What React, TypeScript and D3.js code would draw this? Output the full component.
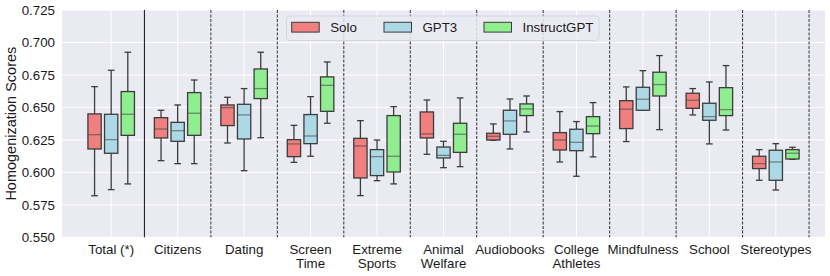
import * as d3 from 'd3'
import { useEffect, useRef } from 'react'

// categories and series
const categories = [
  'Total (*)',
  'Citizens',
  'Dating',
  'Screen\nTime',
  'Extreme\nSports',
  'Animal\nWelfare',
  'Audiobooks',
  'College\nAthletes',
  'Mindfulness',
  'School',
  'Stereotypes',
]
const seriesNames = ['Solo', 'GPT3', 'InstructGPT']
const seriesColors = ['#F08080', '#ADD8E6', '#90EE90']

// [whisker low, q1, median, q3, whisker high]
const soloStats = [
  [0.582, 0.618, 0.629, 0.645, 0.666],
  [0.609, 0.6265, 0.6334, 0.6421, 0.6478],
  [0.6226, 0.636, 0.6498, 0.6519, 0.6578],
  [0.6077, 0.6121, 0.6219, 0.6252, 0.6362],
  [0.5821, 0.5957, 0.6203, 0.6262, 0.6398],
  [0.6139, 0.6265, 0.6296, 0.6465, 0.6557],
  [0.6247, 0.6249, 0.6278, 0.6301, 0.6373],
  [0.608, 0.6172, 0.6249, 0.6306, 0.6468],
  [0.6237, 0.6337, 0.6486, 0.6552, 0.6658],
  [0.6442, 0.6493, 0.6555, 0.6609, 0.6645],
  [0.5939, 0.6029, 0.6067, 0.6124, 0.6175],
]
const gpt3Stats = [
  [0.5867, 0.6147, 0.6252, 0.6447, 0.6786],
  [0.6067, 0.6239, 0.6321, 0.6385, 0.6519],
  [0.6013, 0.6257, 0.6442, 0.6524, 0.6645],
  [0.6124, 0.6221, 0.628, 0.6445, 0.6583],
  [0.5936, 0.5975, 0.6121, 0.6175, 0.6249],
  [0.6036, 0.6111, 0.6131, 0.6195, 0.6239],
  [0.618, 0.6293, 0.6396, 0.6478, 0.6565],
  [0.597, 0.6167, 0.6231, 0.6332, 0.6391],
  [0.6478, 0.6478, 0.6563, 0.6655, 0.6783],
  [0.6219, 0.6401, 0.6429, 0.6532, 0.6696],
  [0.5864, 0.5939, 0.608, 0.617, 0.6221],
]
const instructStats = [
  [0.5911, 0.6285, 0.6447, 0.6622, 0.6925],
  [0.6067, 0.6285, 0.6455, 0.6614, 0.6711],
  [0.6267, 0.6568, 0.6645, 0.6796, 0.6925],
  [0.6378, 0.647, 0.667, 0.6735, 0.685],
  [0.5911, 0.6003, 0.6124, 0.6437, 0.6506],
  [0.6044, 0.6154, 0.6293, 0.6378, 0.6573],
  [0.6311, 0.6437, 0.6488, 0.6527, 0.6588],
  [0.6119, 0.6298, 0.6357, 0.6429, 0.6537],
  [0.6329, 0.6588, 0.6676, 0.6771, 0.6899],
  [0.6326, 0.6437, 0.6483, 0.6652, 0.6822],
  [0.6101, 0.6103, 0.6147, 0.6175, 0.6193],
]
const yTicks = [0.55, 0.575, 0.6, 0.625, 0.65, 0.675, 0.7, 0.725]

const FONT = '"Liberation Sans", Arial, sans-serif'

const BoxChart = () => {
  const ref = useRef<HTMLDivElement>(null)

  useEffect(() => {
    if (!ref.current) return
    d3.select(ref.current).select('svg').remove()

    const W = 830
    const H = 276
    const left = 62
    const right = 825
    const top = 10
    const bottom = 237.3

    const svg = d3
      .select(ref.current)
      .append('svg')
      .attr('width', W)
      .attr('height', H)
      .style('position', 'absolute')
      .style('left', 0)
      .style('top', 0)
      .style('font-family', FONT)

    const x = d3.scaleLinear().domain([-0.74, 10.74]).range([left, right])
    const y = d3.scaleLinear().domain([0.55, 0.725]).range([bottom, top])
    const unit = x(1) - x(0)
    const offsets = [-0.25, 0, 0.25]
    const boxW = 0.2 * unit

    // background
    svg
      .append('rect')
      .attr('x', left)
      .attr('y', top)
      .attr('width', right - left)
      .attr('height', bottom - top)
      .attr('fill', '#EAEAF2')

    // grid
    svg
      .append('g')
      .selectAll('line')
      .data(yTicks)
      .enter()
      .append('line')
      .attr('x1', left)
      .attr('x2', right)
      .attr('y1', (d) => y(d))
      .attr('y2', (d) => y(d))
      .attr('stroke', '#fff')
      .attr('stroke-width', 1)

    svg
      .append('g')
      .selectAll('line')
      .data(categories)
      .enter()
      .append('line')
      .attr('x1', (_, i) => x(i))
      .attr('x2', (_, i) => x(i))
      .attr('y1', top)
      .attr('y2', bottom)
      .attr('stroke', '#fff')
      .attr('stroke-width', 1)

    // group separators
    svg
      .append('g')
      .selectAll('line')
      .data(categories)
      .enter()
      .append('line')
      .attr('x1', (_, i) => x(i + 0.5))
      .attr('x2', (_, i) => x(i + 0.5))
      .attr('y1', top)
      .attr('y2', bottom)
      .attr('stroke', (_, i) => (i === 0 ? '#111' : '#333'))
      .attr('stroke-width', 1)
      .attr('stroke-dasharray', (_, i) => (i === 0 ? null : '3,1.5'))

    // boxes
    const allStats = [soloStats, gpt3Stats, instructStats]
    allStats.forEach((stats, s) => {
      const g = svg.append('g')
      const items = g
        .selectAll('g.box')
        .data(stats)
        .enter()
        .append('g')
        .attr('class', 'box')
      const cx = (i: number) => x(i + offsets[s])
      const lineColor = '#3c3c3c'

      // whiskers
      items
        .append('line')
        .attr('x1', (_, i) => cx(i))
        .attr('x2', (_, i) => cx(i))
        .attr('y1', (d) => y(d[0]))
        .attr('y2', (d) => y(d[1]))
        .attr('stroke', lineColor)
        .attr('stroke-width', 1.3)
      items
        .append('line')
        .attr('x1', (_, i) => cx(i))
        .attr('x2', (_, i) => cx(i))
        .attr('y1', (d) => y(d[3]))
        .attr('y2', (d) => y(d[4]))
        .attr('stroke', lineColor)
        .attr('stroke-width', 1.3)
      // caps
      ;[0, 4].forEach((k) => {
        items
          .append('line')
          .attr('x1', (_, i) => cx(i) - boxW / 4)
          .attr('x2', (_, i) => cx(i) + boxW / 4)
          .attr('y1', (d) => y(d[k]))
          .attr('y2', (d) => y(d[k]))
          .attr('stroke', lineColor)
          .attr('stroke-width', 1.3)
      })
      // box
      items
        .append('rect')
        .attr('x', (_, i) => cx(i) - boxW / 2)
        .attr('width', boxW)
        .attr('y', (d) => y(d[3]))
        .attr('height', (d) => Math.max(0.5, y(d[1]) - y(d[3])))
        .attr('fill', seriesColors[s])
        .attr('stroke', lineColor)
        .attr('stroke-width', 1.3)
      // median
      items
        .append('line')
        .attr('x1', (_, i) => cx(i) - boxW / 2)
        .attr('x2', (_, i) => cx(i) + boxW / 2)
        .attr('y1', (d) => y(d[2]))
        .attr('y2', (d) => y(d[2]))
        .attr('stroke', lineColor)
        .attr('stroke-opacity', 0.55)
        .attr('stroke-width', 1.3)
    })

    // y axis labels
    svg
      .append('g')
      .selectAll('text')
      .data(yTicks)
      .enter()
      .append('text')
      .attr('x', 55)
      .attr('y', (d) => y(d))
      .attr('dy', '0.36em')
      .attr('text-anchor', 'end')
      .attr('font-size', 13.3)
      .attr('fill', '#1a1a1a')
      .text((d) => d3.format('.3f')(d))

    svg
      .append('text')
      .attr('transform', `translate(16,${(top + bottom) / 2}) rotate(-90)`)
      .attr('text-anchor', 'middle')
      .attr('font-size', 14.5)
      .attr('fill', '#1a1a1a')
      .text('Homogenization Scores')

    // x labels
    const xl = svg
      .append('g')
      .selectAll('text')
      .data(categories)
      .enter()
      .append('text')
      .attr('x', (_, i) => x(i))
      .attr('y', 253.5)
      .attr('text-anchor', 'middle')
      .attr('font-size', 13.3)
      .attr('fill', '#1a1a1a')
    xl.selectAll('tspan')
      .data((d) => d.split('\n'))
      .enter()
      .append('tspan')
      .attr('x', function () {
        return (this as any).parentNode.getAttribute('x')
      })
      .attr('dy', (_, j) => (j === 0 ? 0 : 14.3))
      .text((d) => d)

    // legend
    const lg = svg.append('g').attr('transform', 'translate(286.5,16)')
    lg.append('rect')
      .attr('width', 312.5)
      .attr('height', 24.5)
      .attr('rx', 3.5)
      .attr('fill', '#EAEAF2')
      .attr('fill-opacity', 0.85)
      .attr('stroke', '#d6d6de')
      .attr('stroke-width', 1)
    const legendX = [5.2, 97.5, 197.5]
    seriesNames.forEach((name, s) => {
      lg.append('rect')
        .attr('x', legendX[s])
        .attr('y', 6.3)
        .attr('width', 27.5)
        .attr('height', 9.8)
        .attr('fill', seriesColors[s])
        .attr('stroke', '#3c3c3c')
        .attr('stroke-width', 1)
      lg.append('text')
        .attr('x', legendX[s] + 38.5)
        .attr('y', 16)
        .attr('font-size', 13.3)
        .attr('fill', '#1a1a1a')
        .text(name)
    })
  }, [])

  return <div ref={ref} />
}

export default function App() {
  return <BoxChart />
}
